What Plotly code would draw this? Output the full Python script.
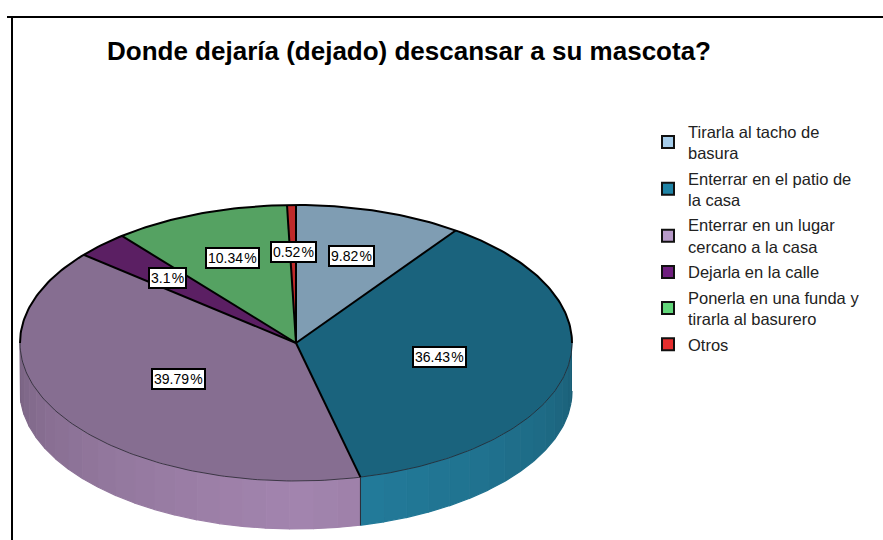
import math
import plotly.graph_objects as go

TITLE = "Donde dejaría (dejado) descansar a su mascota?"
categories = ["Tirarla al tacho de<br>basura", "Enterrar en el patio de<br>la casa",
              "Enterrar en un lugar<br>cercano a la casa", "Dejarla en la calle",
              "Ponerla en una funda y<br>tirarla al basurero", "Otros"]
shares = [9.82, 36.43, 39.79, 3.1, 10.34, 0.52]
legend_colors = ["#A6CDEB", "#1F84A6", "#B79AC9", "#6F1F7F", "#62D77A", "#E62E2E"]
top_colors = ["#7F9DB3", "#1A637D", "#866E91", "#5B1F63", "#55A262", "#BF2A2A"]
side_colors = ["#7F9DB3", "#247F9F", "#A385AF", "#5B1F63", "#55A262", "#BF2A2A"]
label_radius = [0.66, 0.53, 0.50, 0.66, 0.66, 0.66]

W, H = 883, 540
CX, CY, RX, RY = 296, 343, 276, 138
DEPTH = 48 / RY


def pt(t, r=1.0, dz=0.0):
    a = math.radians(t)
    return r * math.sin(a), r * math.cos(a) - dz


def hex_shade(c, f):
    r, g, b = int(c[1:3], 16), int(c[3:5], 16), int(c[5:7], 16)
    return f"rgb({min(255, int(r * f))},{min(255, int(g * f))},{min(255, int(b * f))})"


bounds = [0.0]
for s in shares:
    bounds.append(bounds[-1] + s * 3.6)

fig = go.Figure()

# side wall, drawn as narrow strips with the stepped shading of the original
STEP = 5
for i, col in enumerate(side_colors):
    a0, a1 = max(bounds[i], 90), min(bounds[i + 1], 270)
    if a1 <= a0:
        continue
    n = max(1, round((a1 - a0) / STEP))
    for k in range(n):
        t0 = a0 + (a1 - a0) * k / n
        t1 = a0 + (a1 - a0) * (k + 1) / n
        mid = (t0 + t1) / 2
        f = 0.72 + 0.28 * (1 - abs(mid - 180) / 90) ** 0.7
        xs, ys = [], []
        for j in range(5):
            x, y = pt(t0 + (t1 - t0) * j / 4)
            xs.append(x); ys.append(y)
        for j in range(4, -1, -1):
            x, y = pt(t0 + (t1 - t0) * j / 4, dz=DEPTH)
            xs.append(x); ys.append(y)
        fig.add_trace(go.Scatter(x=xs, y=ys, mode="lines", fill="toself",
                                 fillcolor=hex_shade(col, f), line=dict(width=1.2, color=hex_shade(col, f)),
                                 hoverinfo="skip", showlegend=False))

# seam on the side wall where two slices meet
for b in bounds[1:-1]:
    if 90 < b < 270:
        x0, y0 = pt(b)
        x1, y1 = pt(b, dz=DEPTH)
        fig.add_trace(go.Scatter(x=[x0, x1], y=[y0, y1], mode="lines",
                                 line=dict(color="#2A2A33", width=1), hoverinfo="skip", showlegend=False))

# top faces
for i, col in enumerate(top_colors):
    n = max(2, int((bounds[i + 1] - bounds[i]) / 1.5))
    arc = [pt(bounds[i] + (bounds[i + 1] - bounds[i]) * j / n) for j in range(n + 1)]
    xs = [0] + [p[0] for p in arc] + [0]
    ys = [0] + [p[1] for p in arc] + [0]
    fig.add_trace(go.Scatter(x=xs, y=ys, mode="lines", fill="toself", fillcolor=col,
                             line=dict(width=0), hoverinfo="skip", showlegend=False))

# rim: heavy over the back half, hairline over the front
front = [pt(90 + j) for j in range(181)]
fig.add_trace(go.Scatter(x=[p[0] for p in front], y=[p[1] for p in front], mode="lines",
                         line=dict(color="#26262E", width=0.8), hoverinfo="skip", showlegend=False))
back = [pt(270 + j) for j in range(181)]
fig.add_trace(go.Scatter(x=[p[0] for p in back], y=[p[1] for p in back], mode="lines",
                         line=dict(color="#000000", width=2), hoverinfo="skip", showlegend=False))
# spokes
for b in bounds[:-1]:
    x, y = pt(b)
    fig.add_trace(go.Scatter(x=[0, x], y=[0, y], mode="lines",
                             line=dict(color="#000000", width=2), hoverinfo="skip", showlegend=False))

# legend entries
for i, (name, col) in enumerate(zip(categories, legend_colors)):
    fig.add_trace(go.Scatter(x=[None], y=[None], mode="markers", name=name, legendgroup=f"g{i}",
                             marker=dict(symbol="square", size=13, color=col,
                                         line=dict(color="#111111", width=2))))

# percent labels
for i, s in enumerate(shares):
    mid = (bounds[i] + bounds[i + 1]) / 2
    x, y = pt(mid, label_radius[i])
    fig.add_annotation(x=x, y=y, text=f"{s:g} %".replace(" ", "\u200a"), showarrow=False,
                       bgcolor="#FFFFFF", bordercolor="#000000", borderwidth=2, borderpad=1,
                       font=dict(family="Liberation Sans", size=14, color="#000000"))

fig.update_layout(
    width=W, height=H, margin=dict(l=0, r=0, t=0, b=0),
    paper_bgcolor="#FFFFFF", plot_bgcolor="#FFFFFF",
    title=dict(text=f"<b>{TITLE}</b>", x=409 / W, xanchor="center", y=1 - 51 / H, yanchor="middle",
               font=dict(family="Liberation Sans", size=26, color="#000000")),
    xaxis=dict(range=[(0 - CX) / RX, (W - CX) / RX], visible=False, fixedrange=True),
    yaxis=dict(range=[(CY - H) / RY, CY / RY], visible=False, fixedrange=True),
    legend=dict(x=648 / W, y=1 - 114 / H, xanchor="left", yanchor="top",
                bgcolor="rgba(0,0,0,0)", font=dict(family="Liberation Sans", size=16.5, color="#222222"),
                itemsizing="constant", tracegroupgap=1, traceorder="grouped"),
    shapes=[
        dict(type="line", xref="paper", yref="paper", x0=7 / W, x1=1, y0=1 - 17 / H, y1=1 - 17 / H,
             line=dict(color="#000000", width=2)),
        dict(type="line", xref="paper", yref="paper", x0=12 / W, x1=12 / W, y0=0, y1=1 - 17 / H,
             line=dict(color="#000000", width=2)),
    ],
)

fig.write_html("out.html", post_script="document.body.style.margin='0';",
               config={"displayModeBar": False})
